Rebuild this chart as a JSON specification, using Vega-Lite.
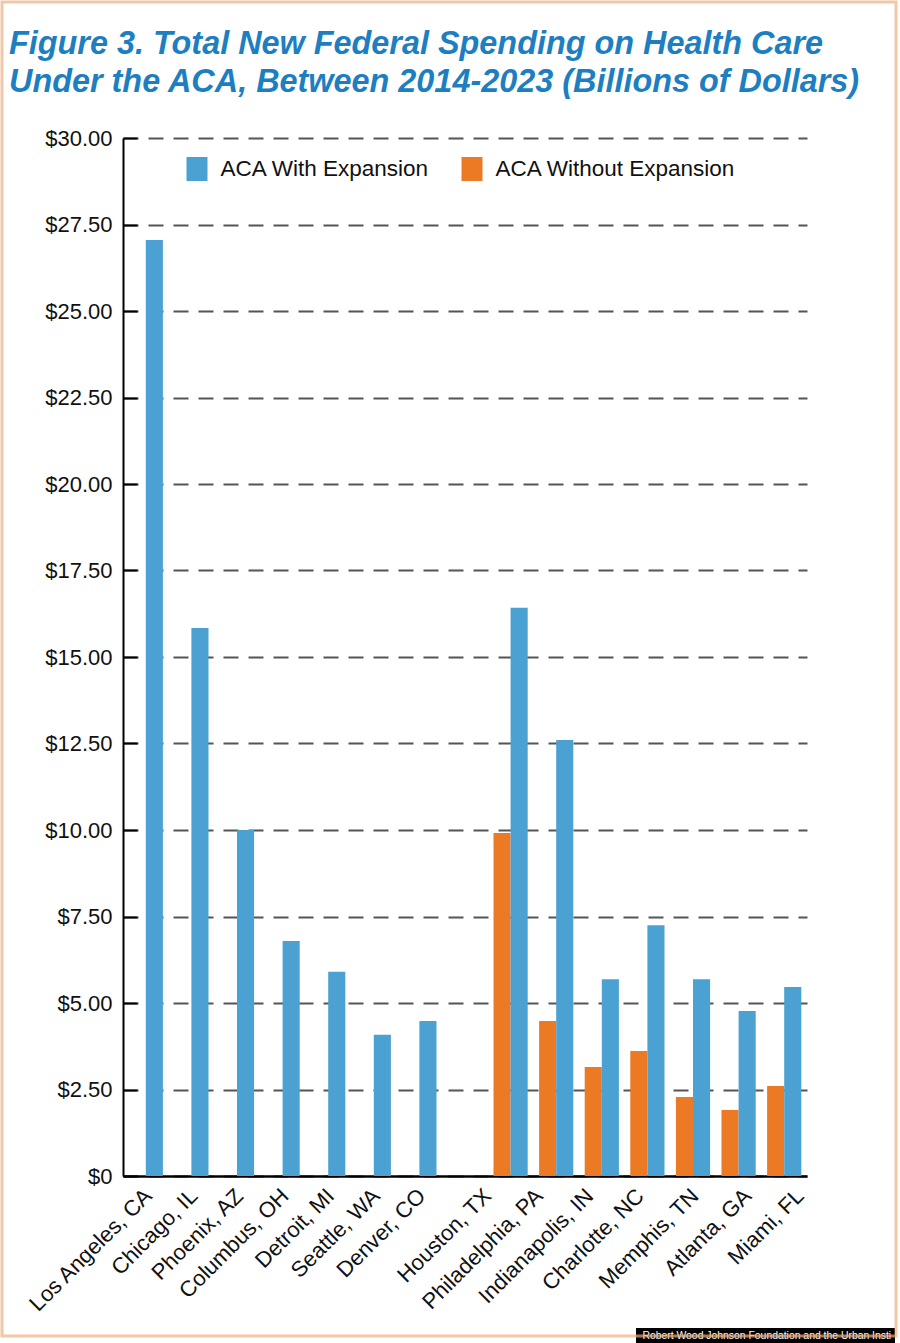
{
  "$schema": "https://vega.github.io/schema/vega-lite/v6.json",
  "width": 684,
  "height": 1038,
  "padding": {"left": 2, "top": 2, "right": 0, "bottom": 0},
  "background": "white",
  "title": {
    "text": ["Figure 3. Total New Federal Spending on Health Care", "Under the ACA, Between 2014-2023 (Billions of Dollars)"],
    "font": "Liberation Sans",
    "fontSize": 32.4,
    "fontStyle": "italic",
    "fontWeight": "bold",
    "color": "#1D7FC1",
    "anchor": "start",
    "frame": "group",
    "dx": -114,
    "lineHeight": 38,
    "offset": -96
  },
  "layer": [
    {
      "data": {
        "values": [
          {"city": "Los Angeles, CA", "series": "ACA With Expansion", "value": 27.05},
          {"city": "Chicago, IL", "series": "ACA With Expansion", "value": 15.84},
          {"city": "Phoenix, AZ", "series": "ACA With Expansion", "value": 10.0},
          {"city": "Columbus, OH", "series": "ACA With Expansion", "value": 6.79},
          {"city": "Detroit, MI", "series": "ACA With Expansion", "value": 5.9},
          {"city": "Seattle, WA", "series": "ACA With Expansion", "value": 4.08},
          {"city": "Denver, CO", "series": "ACA With Expansion", "value": 4.48},
          {"city": "Houston, TX", "series": "ACA Without Expansion", "value": 9.91},
          {"city": "Houston, TX", "series": "ACA With Expansion", "value": 16.42},
          {"city": "Philadelphia, PA", "series": "ACA Without Expansion", "value": 4.48},
          {"city": "Philadelphia, PA", "series": "ACA With Expansion", "value": 12.6},
          {"city": "Indianapolis, IN", "series": "ACA Without Expansion", "value": 3.15},
          {"city": "Indianapolis, IN", "series": "ACA With Expansion", "value": 5.69},
          {"city": "Charlotte, NC", "series": "ACA Without Expansion", "value": 3.61},
          {"city": "Charlotte, NC", "series": "ACA With Expansion", "value": 7.25},
          {"city": "Memphis, TN", "series": "ACA Without Expansion", "value": 2.28},
          {"city": "Memphis, TN", "series": "ACA With Expansion", "value": 5.69},
          {"city": "Atlanta, GA", "series": "ACA Without Expansion", "value": 1.91},
          {"city": "Atlanta, GA", "series": "ACA With Expansion", "value": 4.77},
          {"city": "Miami, FL", "series": "ACA Without Expansion", "value": 2.6},
          {"city": "Miami, FL", "series": "ACA With Expansion", "value": 5.46}
        ]
      },
      "mark": {"type": "bar"},
      "encoding": {
        "x": {
          "field": "city",
          "type": "nominal",
          "scale": {
            "domain": ["Los Angeles, CA", "Chicago, IL", "Phoenix, AZ", "Columbus, OH", "Detroit, MI", "Seattle, WA", "Denver, CO", " ", "Houston, TX", "Philadelphia, PA", "Indianapolis, IN", "Charlotte, NC", "Memphis, TN", "Atlanta, GA", "Miami, FL"],
            "paddingInner": 0.25,
            "paddingOuter": 0.125
          },
          "axis": {
            "title": null,
            "labelAngle": -45,
            "labelAlign": "right",
            "labelBaseline": "middle",
            "labelFont": "Liberation Sans",
            "labelFontSize": 22,
            "labelColor": "#111111",
            "labelPadding": 16,
            "labelOffset": {
              "condition": [
                {"test": "datum.value === 'Houston, TX'", "value": -23},
                {"test": "datum.value === 'Philadelphia, PA'", "value": -17},
                {"test": "datum.value === 'Indianapolis, IN'", "value": -12},
                {"test": "datum.value === 'Charlotte, NC'", "value": -7},
                {"test": "datum.value === 'Memphis, TN'", "value": 2},
                {"test": "datum.value === 'Atlanta, GA'", "value": 9},
                {"test": "datum.value === 'Miami, FL'", "value": 16}
              ],
              "value": 2.5
            },
            "ticks": false,
            "domainColor": "#000000",
            "domainWidth": 2.5,
            "grid": false
          }
        },
        "xOffset": {
          "field": "series",
          "type": "nominal",
          "scale": {"domain": ["ACA Without Expansion", "ACA With Expansion"], "paddingInner": 0, "paddingOuter": 0}
        },
        "y": {
          "field": "value",
          "type": "quantitative",
          "scale": {"domain": [0, 30], "nice": false},
          "axis": {
            "title": null,
            "values": [0, 2.5, 5, 7.5, 10, 12.5, 15, 17.5, 20, 22.5, 25, 27.5, 30],
            "labelExpr": "datum.value == 0 ? '$0' : '$' + format(datum.value, '.2f')",
            "labelFont": "Liberation Sans",
            "labelFontSize": 22,
            "labelColor": "#111111",
            "labelPadding": 25,
            "domainColor": "#000000",
            "domainWidth": 2,
            "tickColor": "#000000",
            "tickWidth": 2,
            "tickSize": -14,
            "grid": true,
            "gridColor": "#555555",
            "gridDash": [15, 10],
            "gridWidth": 2
          }
        },
        "color": {
          "field": "series",
          "type": "nominal",
          "scale": {"domain": ["ACA With Expansion", "ACA Without Expansion"], "range": ["#4BA1D2", "#EC7A25"]},
          "legend": {
            "title": null,
            "orient": "none",
            "legendX": 62,
            "legendY": 19,
            "direction": "horizontal",
            "symbolType": "M-0.875,-1H0.875V1H-0.875Z",
            "symbolSize": 576,
            "symbolStrokeWidth": 0,
            "labelFont": "Liberation Sans",
            "labelFontSize": 22.5,
            "labelColor": "#111111",
            "labelOffset": 11.5,
            "labelLimit": 0,
            "columnPadding": 30,
            "padding": 0
          }
        }
      }
    },
    {
      "data": {"values": [{"k": 0.5, "credit": "Robert Wood Johnson Foundation and the Urban Insti"}]},
      "mark": {"type": "point", "size": 0, "filled": false, "strokeWidth": 0},
      "encoding": {
        "stroke": {
          "field": "k",
          "type": "quantitative",
          "scale": {"domain": [0, 1], "range": ["rgba(255,255,255,0)", "rgba(255,255,255,0)"]},
          "legend": {
            "title": null,
            "orient": "none",
            "legendX": -121,
            "legendY": -136,
            "direction": "vertical",
            "gradientLength": 1334,
            "gradientThickness": 894,
            "gradientStrokeColor": "#EFAE7E",
            "gradientStrokeWidth": 3,
            "labelOpacity": 0,
            "labelExpr": "''",
            "padding": 0
          }
        },
        "shape": {
          "field": "credit",
          "type": "nominal",
          "legend": {
            "title": null,
            "orient": "none",
            "legendX": 513,
            "legendY": 1190,
            "symbolSize": 0,
            "symbolOpacity": 0,
            "symbolStrokeWidth": 0,
            "labelOffset": -7,
            "labelFont": "Liberation Sans",
            "labelFontSize": 10.4,
            "labelColor": "#FFFFFF",
            "labelLimit": 0,
            "fillColor": "#000000",
            "padding": 3
          }
        }
      }
    }
  ],
  "config": {
    "view": {"stroke": null}
  }
}
